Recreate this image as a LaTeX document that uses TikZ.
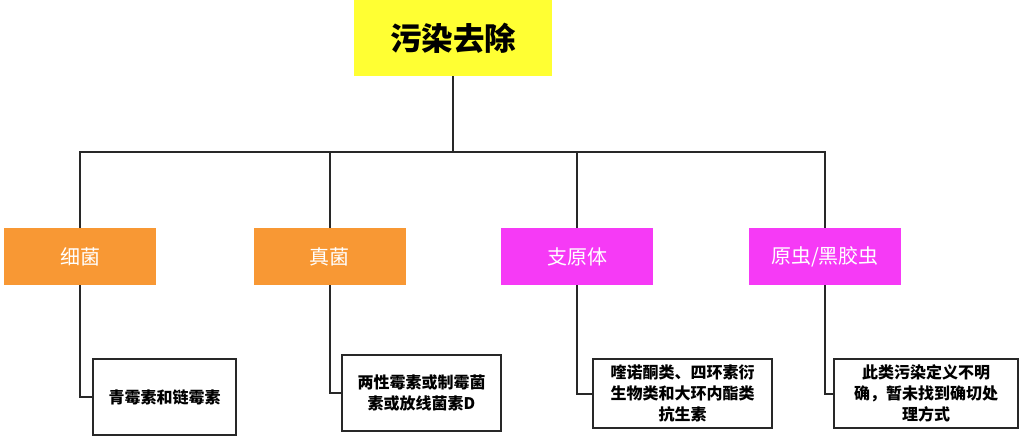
\documentclass[tikz,border=0pt]{standalone}
\usepackage{fontspec}
\setmainfont{Noto Sans CJK SC}
\newfontfamily\cjk{Noto Sans CJK SC}
\definecolor{rootyellow}{RGB}{255,255,51}
\definecolor{catorange}{RGB}{248,152,52}
\definecolor{catmagenta}{RGB}{246,58,246}
\definecolor{linegray}{RGB}{40,40,40}
\tikzset{
  rootbox/.style={fill=rootyellow, minimum width=198pt, minimum height=76pt, inner sep=0pt, font=\cjk\fontsize{31.5}{34}\selectfont\bfseries, text=black},
  catbox/.style={minimum width=152pt, minimum height=57pt, inner sep=0pt, font=\cjk\fontsize{20}{22}\selectfont, text=white},
  leafbox/.style={draw=linegray, line width=1.8pt, fill=white, inner sep=0pt, font=\cjk\fontsize{16}{21}\selectfont\bfseries, align=center, text=black},
  conn/.style={draw=linegray, line width=2pt}
}
\begin{document}
\begin{tikzpicture}[x=1pt,y=-1pt]
\useasboundingbox (0,0) rectangle (1024,442);
\node[rootbox] (root) at (453,38) {污染去除};
\node[catbox, fill=catorange] (c1) at (80,256.5) {细菌};
\node[catbox, fill=catorange] (c2) at (329.5,256.5) {真菌};
\node[catbox, fill=catmagenta] (c3) at (577,256.5) {支原体};
\node[catbox, fill=catmagenta] (c4) at (825,256.5) {原虫/黑胶虫};
\node[leafbox, minimum width=143pt, minimum height=76pt] (l1) at (164.5,397) {青霉素和链霉素};
\node[leafbox, minimum width=159pt, minimum height=76pt] (l2) at (421.5,393) {两性霉素或制霉菌\\素或放线菌素D};
\node[leafbox, minimum width=179pt, minimum height=69pt] (l3) at (682.5,393.5) {喹诺酮类、四环素衍\\生物类和大环内酯类\\抗生素};
\node[leafbox, minimum width=184pt, minimum height=69pt] (l4) at (926,393.5) {此类污染定义不明\\确，暂未找到确切处\\理方式};
\coordinate (bus) at (453,152);
\draw[conn] (root.south) -- (bus);
\draw[conn] (c1.north) |- (bus) -| (c4.north);
\draw[conn] (c2.north) -- (c2.north |- bus);
\draw[conn] (c3.north) -- (c3.north |- bus);
\draw[conn] (c1.south) |- (l1.west);
\draw[conn] (c2.south) |- (l2.west);
\draw[conn] (c3.south) |- (l3.west);
\draw[conn] (c4.south) |- (l4.west);
\end{tikzpicture}
\end{document}
